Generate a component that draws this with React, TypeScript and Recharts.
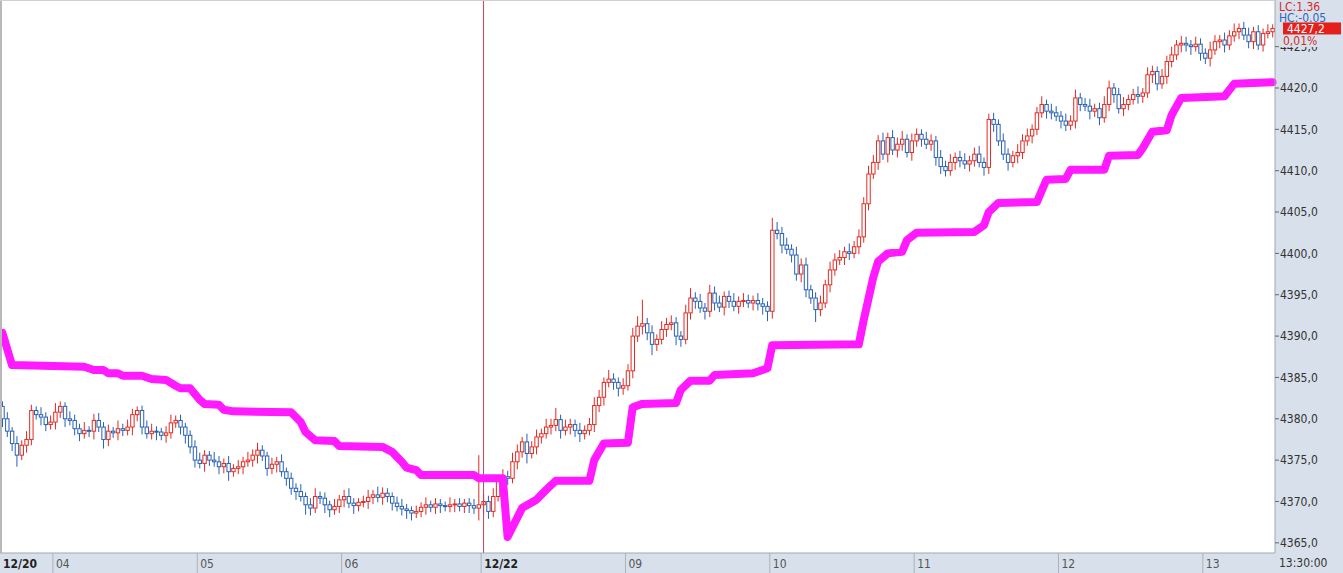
import {
  ComposedChart,
  Bar,
  Line,
  XAxis,
  YAxis,
  ReferenceLine,
} from "recharts";

// 2-minute candles, session 1 (12/20 night, 100 bars) + session 2 (12/22 day, 165 bars)
const FIRST_OPEN = 4381.5;

const CLOSES = [
  4380.0, 4378.5, 4377.0, 4375.6, 4376.8, 4377.5, 4381.0, 4380.5, 4380.2, 4379.3,
  4379.6, 4380.8, 4381.5, 4380.0, 4379.8, 4378.8, 4378.2, 4378.6, 4378.5, 4379.8,
  4379.0, 4377.5, 4378.5, 4378.3, 4378.8, 4378.6, 4379.0, 4380.5, 4381.0, 4379.0,
  4378.2, 4378.5, 4378.4, 4378.0, 4378.3, 4379.5, 4379.8, 4379.0, 4378.0, 4376.6,
  4375.0, 4374.6, 4375.6, 4375.0, 4374.8, 4374.2, 4374.6, 4373.6, 4374.0, 4374.2,
  4374.8, 4375.0, 4375.6, 4376.2, 4375.5, 4374.0, 4374.5, 4374.8, 4373.6, 4372.8,
  4371.6, 4371.2, 4370.6, 4369.6, 4369.2, 4370.6, 4370.4, 4369.6, 4369.0, 4369.4,
  4370.2, 4370.6, 4369.8, 4369.5, 4369.9, 4370.0, 4370.5, 4370.8, 4370.5, 4371.0,
  4370.6, 4369.8, 4369.4, 4369.1, 4368.9, 4368.6, 4368.8, 4369.3, 4369.6, 4369.3,
  4369.7, 4369.5, 4369.4, 4369.6, 4369.7, 4369.4, 4369.8, 4369.5, 4369.2, 4369.6,
  4370.0, 4368.8, 4370.6, 4372.6, 4373.0, 4372.8, 4374.8, 4376.0, 4377.2, 4375.8,
  4376.6, 4377.8, 4378.2, 4379.0, 4379.2, 4379.9, 4378.6, 4379.0, 4379.3, 4378.6,
  4378.2, 4378.6, 4379.3, 4381.6, 4382.6, 4384.4, 4384.8, 4384.4, 4383.7, 4384.0,
  4385.8, 4390.0, 4391.2, 4391.5, 4390.4, 4389.0, 4389.6, 4390.8, 4391.4, 4391.6,
  4390.0, 4389.6, 4392.8, 4394.6, 4394.2, 4393.4, 4393.0, 4395.2, 4394.0, 4393.5,
  4394.8, 4394.2, 4393.6, 4394.2, 4394.3, 4394.0, 4394.3, 4393.9, 4393.6, 4393.0,
  4402.8, 4402.4, 4401.0, 4400.5, 4399.8, 4397.5, 4398.6, 4395.6, 4394.6, 4393.2,
  4394.0, 4396.2, 4398.0, 4399.2, 4399.5, 4400.2, 4400.0, 4400.8, 4402.0, 4406.0,
  4409.6, 4411.0, 4413.6, 4412.0, 4414.0, 4412.5, 4413.2, 4413.8, 4412.2, 4413.6,
  4414.4, 4413.8, 4413.2, 4413.6, 4411.6, 4410.5, 4410.0, 4411.0, 4411.6, 4411.2,
  4410.8, 4411.2, 4412.0, 4411.0, 4410.4, 4416.2, 4415.6, 4413.6, 4412.0, 4411.0,
  4411.8, 4412.2, 4413.6, 4414.2, 4415.0, 4417.0, 4418.0, 4417.2, 4417.0, 4416.6,
  4416.0, 4415.5, 4416.0, 4418.8, 4418.0, 4417.8, 4417.2, 4417.5, 4416.4, 4418.0,
  4420.0, 4419.2, 4417.5, 4418.0, 4418.6, 4419.2, 4419.0, 4419.4, 4421.6, 4422.0,
  4420.5, 4421.4, 4423.2, 4424.0, 4425.2, 4425.4, 4425.2, 4425.0, 4425.3, 4424.2,
  4423.6, 4424.6, 4425.6, 4425.8, 4425.2, 4426.3, 4426.8, 4427.2, 4426.4, 4425.6,
  4426.8, 4425.2, 4426.6, 4426.8, 4427.2,
];

// wick length above / below the body, in points
const WICK_UP = [
  .6, .8, .5, .9, .6, 1.0, .7, .5, .9, .6, .8, 1.1, .6, .5, .9, .7, .6, 1.0, .5, .8,
  .9, .6, .8, .5, 1.0, .6, .9, .7, .5, .6, .8, .9, .6, .5, .8, 1.0, .6, .7, .5, .6,
  .8, .9, .6, .5, 1.0, .7, .6, .9, .5, .8, .6, 1.0, .7, .9, .6, .5, .8, .6, .9, .5,
  .7, .6, .9, .5, .8, 1.0, .6, .7, .5, .9, .6, .8, 1.0, .6, .5, .7, .9, .6, 1.0, .7,
  .6, .5, .8, .9, .6, .5, .7, .6, .9, .5, .7, .6, .5, .9, .6, .7, .5, .6, .8, 6.0,
  .9, .7, 1.0, .6, .9, .7, 1.1, .9, .6, 1.0, .7, .9, .6, 1.0, .8, 1.4, .6, .9, .7, .6,
  .9, .6, .8, 1.0, .9, .6, 1.1, .7, .6, .9, .8, 1.0, 1.2, 2.9, .7, .9, .6, 1.0, .8, .9,
  .7, .6, 1.0, 1.2, .7, .9, .6, 1.0, .8, .9, .6, .7, 1.0, .6, .9, .7, .6, .9, .7, .6,
  1.5, 1.0, .8, .9, .6, 1.0, .8, .9, .6, .7, .9, .6, 1.0, .8, .9, .6, 1.0, .7, .9, .8,
  1.0, .9, .7, 1.0, .6, .9, .8, 1.0, .6, .9, .7, .6, .9, .8, .6, .9, .7, 1.0, .6, .8,
  .9, .6, .8, 1.0, .6, .7, .8, .6, .9, .7, .6, 1.0, .8, .9, .6, .7, 1.0, .6, .9, .8,
  .6, .9, .7, 1.0, .6, .8, .9, .6, .7, 1.0, .9, .6, .8, .9, .6, .7, 1.0, .6, .9, .7,
  .6, .9, .7, 1.0, .6, .9, .8, .6, .9, .7, .6, 1.0, .8, .6, .9, .7, 1.0, .6, .8, .9,
  .6, .8, .6, .9, .5,
];

const WICK_DN = [
  1.0, .7, .9, 1.4, .6, .9, .7, .6, 1.0, .8, .6, .9, .7, 1.0, .6, .8, .9, .6, .7, 1.0,
  .6, 1.1, .8, .6, .9, .7, .6, 1.0, .8, .9, .6, .7, 1.0, .6, .9, .7, .6, .9, 1.0, .8,
  .9, .6, 1.0, .7, .6, .9, .8, 1.1, .6, .7, .9, .6, .8, 1.0, .6, .9, .7, 1.0, .6, .9,
  .8, 1.0, .6, 1.2, .9, .6, .7, 1.0, .9, .6, .8, .9, .6, 1.0, .7, .6, .9, .8, .6, .9,
  .7, .9, .6, .8, 1.0, .9, .6, .7, .9, .6, .8, .9, .6, .7, .9, .6, .8, .9, .7, 1.5,
  1.2, .9, .7, .6, .9, .8, .6, .9, .7, 1.2, .6, .9, .8, .6, .9, .7, 1.0, .6, .9, .8,
  1.0, .7, .6, .9, .8, 1.0, .6, .9, 1.0, .8, .6, .9, .7, 1.0, .9, 1.3, .8, .6, .9, .7,
  1.1, .9, .6, .8, .9, .6, 1.0, .7, .9, .6, 1.0, .8, .6, .9, .7, .6, .9, .8, 1.0, 1.2,
  .9, .7, 1.0, .6, .9, .8, 1.0, .9, .7, 1.5, .8, .6, .9, .7, .6, .9, .8, .6, .9, .7,
  .8, .6, .9, .7, 1.0, .6, .9, .8, .6, 1.0, .7, .9, .6, .8, 1.0, .9, .7, .6, .9, .8,
  .6, .9, .7, .6, 1.0, .8, .9, .6, .7, 1.0, .6, .9, .8, .6, .9, .7, .6, .9, .8, .6,
  .9, .7, .6, .9, .8, .6, 1.0, .7, .9, .6, .8, 1.0, .6, .9, .7, .6, .9, .8, .6, 1.0,
  .8, .6, .9, .7, .6, .9, .8, 1.0, .6, .9, .7, 1.0, .6, .8, .9, .6, .7, .9, .6, .8,
  .9, .6, .8, .6, .7,
];

// magenta trailing line: bar index / value at its corners
const TRAIL_IDX = [
  0, 2, 17, 19, 21, 22, 24, 25, 29, 31, 34, 36, 37, 39, 41, 42, 45, 46, 48, 60,
  62, 63, 65, 69, 70, 79, 81, 83, 84, 86, 87, 98, 99, 104, 105, 108, 111, 113, 115, 122,
  123, 125, 130, 131, 133, 140, 141, 143, 147, 148, 156, 158, 159, 160, 178, 179, 181, 182, 184, 187,
  188, 190, 202, 204, 205, 207, 215, 217, 221, 222, 229, 230, 236, 237, 239, 242, 243, 245, 254, 256,
  264,
];
const TRAIL_VAL = [
  4390.4, 4386.5, 4386.3, 4385.9, 4385.9, 4385.5, 4385.5, 4385.2, 4385.2, 4384.8,
  4384.7, 4384.0, 4383.7, 4383.7, 4382.3, 4381.8, 4381.7, 4381.1, 4380.9, 4380.8,
  4379.6, 4378.4, 4377.4, 4377.3, 4376.7, 4376.6, 4376.0, 4374.8, 4374.1, 4373.8,
  4373.2, 4373.2, 4372.8, 4372.8, 4365.7, 4369.2, 4370.2, 4371.4, 4372.5, 4372.5,
  4375.0, 4377.0, 4377.1, 4381.4, 4381.8, 4381.9, 4383.5, 4384.6, 4384.6, 4385.3,
  4385.5, 4385.9, 4386.1, 4388.9, 4389.0, 4391.9, 4397.1, 4399.0, 4400.0, 4400.2,
  4401.6, 4402.5, 4402.6, 4403.4, 4405.0, 4406.1, 4406.2, 4408.9, 4409.0, 4410.1,
  4410.1, 4411.8, 4411.9, 4412.7, 4414.7, 4414.9, 4416.7, 4418.8, 4419.0, 4420.5,
  4420.7,
];

const X_TICKS = [0, 11, 41, 71, 100, 130, 160, 190, 220, 250];
const X_LABELS = ["12/20", "04", "05", "06", "12/22", "09", "10", "11", "12", "13"];
const DATE_TICKS = [0, 100];
const Y_TICKS = [4365, 4370, 4375, 4380, 4385, 4390, 4395, 4400, 4405, 4410, 4415, 4420, 4425];
const LAST_PRICE = 4427.2;

const W = 1343;
const H = 573;
const AXIS_W = 68;
const AXIS_H = 20;
const BAND = "#d8e1eb";
const UP = "#e22a22";
const DOWN = "#2760b5";
const FONT = "'DejaVu Sans Condensed', 'Liberation Sans Narrow', sans-serif";

const trail = new Map<number, number>();
TRAIL_IDX.forEach((idx, k) => trail.set(idx, TRAIL_VAL[k]));

const data = CLOSES.map((c, i) => {
  const o = i === 0 ? FIRST_OPEN : CLOSES[i - 1];
  const hi = Math.max(o, c) + WICK_UP[i];
  const lo = Math.min(o, c) - WICK_DN[i];
  return { i, o, c, range: [lo, hi], trail: trail.has(i) ? trail.get(i) : null };
});

const Candle = (props: any) => {
  const { x, y, width, height, payload } = props;
  if (!payload) return null;
  const [lo, hi] = payload.range;
  const top = Math.min(y, y + height);
  const h = Math.abs(height);
  const py = (v: number) => top + ((hi - v) / (hi - lo || 1)) * h;
  const cx = x + width / 2;
  const color = payload.c >= payload.o ? UP : DOWN;
  const bTop = py(Math.max(payload.o, payload.c));
  const bBot = py(Math.min(payload.o, payload.c));
  return (
    <g>
      <line x1={cx} x2={cx} y1={top} y2={top + h} stroke={color} strokeWidth={1} />
      <rect
        x={cx - 1.7}
        y={bTop}
        width={3.4}
        height={Math.max(bBot - bTop, 1)}
        fill="#fff"
        stroke={color}
        strokeWidth={1}
      />
    </g>
  );
};

const XTick = (props: any) => {
  const { x, payload } = props;
  const k = X_TICKS.indexOf(payload.value);
  const bw = (W - AXIS_W) / CLOSES.length;
  const left = x - bw / 2;
  const isDate = DATE_TICKS.includes(payload.value);
  return (
    <g>
      {k > 0 && <line x1={left} x2={left} y1={H - AXIS_H} y2={H} stroke="#a9b3bd" />}
      <text
        x={left + 3}
        y={H - 5}
        fontSize={12}
        fontFamily={FONT}
        fill={isDate ? "#222" : "#555"}
        fontWeight={isDate ? "bold" : "normal"}
      >
        {X_LABELS[k]}
      </text>
    </g>
  );
};

const PriceTag = (props: any) => {
  const { viewBox } = props;
  if (!viewBox) return null;
  const bx = viewBox.x + viewBox.width + 8;
  return (
    <g>
      <rect x={bx} y={viewBox.y - 6} width={58} height={12} fill="#e3201b" />
      <text x={bx + 4} y={viewBox.y + 4.5} fontSize={12} fontFamily={FONT} fill="#fff">
        {LAST_PRICE.toFixed(1).replace(".", ",")}
      </text>
    </g>
  );
};

const overlayText = (top: number, color: string, bg?: string): React.CSSProperties => ({
  position: "absolute",
  left: W - AXIS_W + 4,
  top,
  width: AXIS_W - 4,
  height: 11,
  lineHeight: "11px",
  fontSize: 12,
  fontFamily: FONT,
  color,
  background: bg,
});

export default function App() {
  return (
    <div style={{ position: "fixed", left: 0, top: 0, width: W, height: H, background: "#fff" }}>
      <div style={{ position: "absolute", left: W - AXIS_W, top: 0, width: AXIS_W, height: H, background: BAND }} />
      <div style={{ position: "absolute", left: 0, top: H - AXIS_H, width: W, height: AXIS_H, background: BAND }} />
      <div style={{ position: "absolute", left: 0, top: 0 }}>
        <ComposedChart
          width={W}
          height={H}
          data={data}
          margin={{ top: 0, right: 0, bottom: 0, left: 0 }}
          barCategoryGap={0}
        >
          <XAxis
            dataKey="i"
            type="category"
            ticks={X_TICKS}
            interval={0}
            height={AXIS_H}
            tick={<XTick />}
            tickLine={false}
            axisLine={{ stroke: "#a0a8b0" }}
          />
          <YAxis
            orientation="right"
            width={AXIS_W}
            domain={[4363.77, 4430.64]}
            allowDataOverflow
            ticks={Y_TICKS}
            interval={0}
            tickSize={4}
            tickMargin={1}
            tickLine={{ stroke: "#666" }}
            axisLine={{ stroke: "#a0a8b0" }}
            tick={{ fontSize: 12, fontFamily: FONT, fill: "#333" }}
            tickFormatter={(v: number) => v.toFixed(1).replace(".", ",")}
          />
          <ReferenceLine x={100} stroke="#c24655" strokeWidth={1} />
          <Bar dataKey="range" shape={<Candle />} isAnimationActive={false} />
          <Line
            dataKey="trail"
            type="linear"
            stroke="#ff1aff"
            strokeWidth={8}
            strokeLinejoin="round"
            strokeLinecap="round"
            dot={false}
            activeDot={false}
            connectNulls
            isAnimationActive={false}
          />
          <ReferenceLine y={LAST_PRICE} stroke="none" label={<PriceTag />} />
        </ComposedChart>
      </div>
      <div style={overlayText(2, "#d02a2a")}>LC:1.36</div>
      <div style={overlayText(13, "#2f64c0")}>HC:-0.05</div>
      <div style={{ ...overlayText(36, "#d02a2a", BAND), paddingLeft: 4, width: AXIS_W - 8 }}>0,01%</div>
      <div style={{ position: "absolute", left: 0, top: 0, width: 2, height: H - AXIS_H, background: "#b8b8b8" }} />
      <div style={{ position: "absolute", left: 0, top: 0, width: W - AXIS_W, height: 1, background: "#d0d0d0" }} />
      <div
        style={{
          position: "absolute",
          left: W - AXIS_W + 4,
          top: H - AXIS_H + 3,
          fontSize: 12,
          lineHeight: "14px",
          fontFamily: FONT,
          color: "#333",
        }}
      >
        13:30:00
      </div>
    </div>
  );
}
